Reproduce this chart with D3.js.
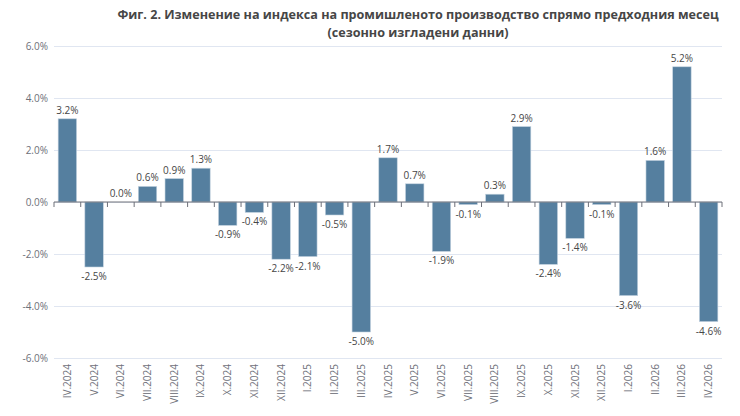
<!DOCTYPE html>
<html>
<head>
<meta charset="utf-8">
<script src="https://cdn.jsdelivr.net/npm/d3@7"></script>
<style>
  body { margin: 0; background: #fff; }
  svg { display: block; font-family: "Open Sans", sans-serif; }
</style>
</head>
<body>
<svg id="chart" width="740" height="416"></svg>
<script>
// months and month-on-month change, %
var months = ["IV.2024", "V.2024", "VI.2024", "VII.2024", "VIII.2024", "IX.2024", "X.2024", "XI.2024",
  "XII.2024", "I.2025", "II.2025", "III.2025", "IV.2025", "V.2025", "VI.2025", "VII.2025", "VIII.2025",
  "IX.2025", "X.2025", "XI.2025", "XII.2025", "I.2026", "II.2026", "III.2026", "IV.2026"];
var values = [3.2, -2.5, 0.0, 0.6, 0.9, 1.3, -0.9, -0.4, -2.2, -2.1, -0.5, -5.0, 1.7, 0.7, -1.9,
  -0.1, 0.3, 2.9, -2.4, -1.4, -0.1, -3.6, 1.6, 5.2, -4.6];
var yTicks = [-6, -4, -2, 0, 2, 4, 6];
var titleLines = ["Фиг. 2. Изменение на индекса на промишленото производство спрямо предходния месец",
  "(сезонно изгладени данни)"];

var data = months.map(function(m, i) { return {month: m, value: values[i]}; });

var svg = d3.select("#chart");
var plotL = 54, plotR = 722, plotT = 46, plotB = 358;

// plain hyphen instead of unicode minus
var pct = function(v) { return v.toFixed(1) + "%"; };

//Scales
var x = d3.scaleBand()
    .domain(months)
    .range([plotL, plotR])
    .paddingInner(0.31)
    .paddingOuter(0.155);
var y = d3.scaleLinear()
    .domain([-6, 6])
    .range([plotB, plotT]);

//Title
svg.append("g").selectAll("text")
    .data(titleLines)
    .enter()
    .append("text")
    .attr("x", 418)
    .attr("y", function(d, i) { return 19 + i * 18; })
    .attr("text-anchor", "middle")
    .style("font-size", "12.6px")
    .style("font-weight", "bold")
    .style("fill", "#464646")
    .text(function(d) { return d; });

//Grid + y labels
var yAxis = svg.append("g")
    .attr("transform", "translate(" + plotL + ",0)")
    .call(d3.axisLeft(y).tickValues(yTicks).tickSize(-(plotR - plotL)).tickPadding(6)
      .tickFormat(pct));
yAxis.select(".domain").remove();
yAxis.selectAll("line").attr("stroke", "#e0e6f1");
yAxis.selectAll("text")
    .style("font-size", "10px")
    .style("fill", "#6e7079")
    .style("font-family", "Open Sans, sans-serif");

//Bars
svg.append("g").selectAll("rect")
    .data(data)
    .enter()
    .append("rect")
    .attr("x", function(d) { return x(d.month); })
    .attr("width", x.bandwidth())
    .attr("y", function(d) { return y(Math.max(0, d.value)); })
    .attr("height", function(d) { return Math.abs(y(d.value) - y(0)); })
    .attr("fill", "#557f9f")
    .attr("stroke", "#c4d3df")
    .attr("stroke-width", 0.6);

//Zero axis with ticks between bands
var zero = svg.append("g")
    .attr("transform", "translate(0," + y(0) + ")");
zero.append("line")
    .attr("x1", plotL).attr("x2", plotR)
    .attr("stroke", "#6e7079");
zero.selectAll(".tk")
    .data(d3.range(months.length + 1))
    .enter()
    .append("line")
    .attr("x1", function(i) { return plotL + i * x.step(); })
    .attr("x2", function(i) { return plotL + i * x.step(); })
    .attr("y1", 0).attr("y2", 5)
    .attr("stroke", "#6e7079");

//Value labels
svg.append("g").selectAll("text")
    .data(data)
    .enter()
    .append("text")
    .attr("x", function(d) { return x(d.month) + x.bandwidth() / 2; })
    .attr("y", function(d) { return d.value >= 0 ? y(d.value) - 5 : y(d.value) + 13; })
    .attr("text-anchor", "middle")
    .style("font-size", "10px")
    .style("fill", "#464646")
    .text(function(d) { return pct(d.value); });

//Month labels, rotated
svg.append("g").selectAll("text")
    .data(months)
    .enter()
    .append("text")
    .attr("transform", function(d) {
      return "translate(" + (x(d) + x.bandwidth() / 2 + 3.5) + "," + (plotB + 6) + ") rotate(-90)";
    })
    .attr("text-anchor", "end")
    .style("font-size", "10px")
    .style("fill", "#6e7079")
    .text(function(d) { return d; });
</script>
</body>
</html>
